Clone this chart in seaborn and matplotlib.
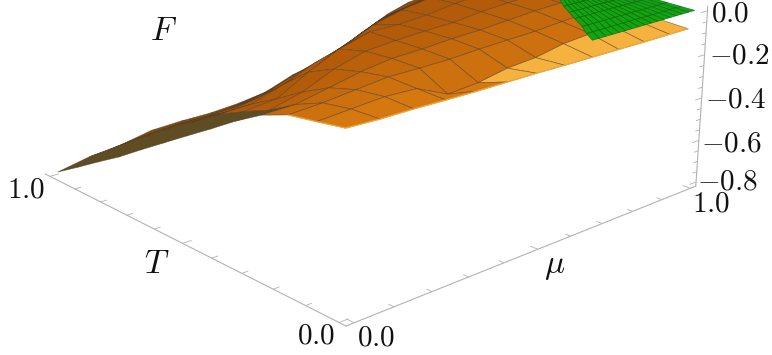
# surface plot of F over (mu, T), view set by a fitted camera matrix
import numpy as np
import matplotlib
matplotlib.use('Agg')
import matplotlib.pyplot as plt
import seaborn as sns

sns.set_theme(style='white')
plt.rcParams['mathtext.fontset'] = 'cm'
plt.rcParams['font.family'] = ['DejaVu Serif']

W, H = 772, 355

# orange sheet: columns are mu, rows are T
mu_nodes = [0, 0.083, 0.167, 0.25, 0.333, 0.417, 0.5, 0.583, 0.667, 0.75, 0.833, 0.917, 0.98]
T_nodes = [0, 0.083, 0.167, 0.25, 0.333, 0.417, 0.5, 0.583, 0.667, 0.75, 0.833, 0.917, 1.0]
F_orange = [
    [-.060, -.065, -.065, -.068, -.070, -.070, -.070, -.072, -.073, -.074, -.075, -.075, -.075],
    [-.080, -.070, -.060, -.065, -.125, -.115, -.090, -.080, -.055, -.045, -.050, -.060, -.070],
    [-.099, -.090, -.075, -.060, -.060, -.058, -.050, -.045, -.040, -.030, -.020, -.030, -.050],
    [-.144, -.140, -.110, -.080, -.060, -.055, -.045, -.040, -.030, -.020, -.015, -.020, -.040],
    [-.213, -.207, -.170, -.110, -.070, -.058, -.050, -.045, -.030, -.020, -.015, -.020, -.030],
    [-.291, -.257, -.242, -.165, -.100, -.060, -.060, -.050, -.030, -.020, -.015, -.020, -.030],
    [-.366, -.313, -.307, -.259, -.203, -.161, -.100, -.064, -.040, -.040, -.030, -.030, -.040],
    [-.442, -.385, -.383, -.358, -.308, -.271, -.225, -.156, -.130, -.100, -.080, -.070, -.060],
    [-.519, -.454, -.453, -.444, -.417, -.375, -.340, -.276, -.215, -.195, -.165, -.130, -.100],
    [-.597, -.534, -.526, -.526, -.506, -.480, -.440, -.390, -.336, -.276, -.253, -.215, -.165],
    [-.667, -.613, -.610, -.607, -.593, -.579, -.550, -.510, -.457, -.390, -.336, -.311, -.280],
    [-.740, -.700, -.684, -.680, -.677, -.669, -.645, -.607, -.568, -.517, -.456, -.400, -.360],
    [-.810, -.780, -.765, -.736, -.730, -.730, -.720, -.700, -.650, -.620, -.570, -.510, -.460],
]

# green sheet sits at F = 0, left edge moves with T
green_T = [0, .04, .08, .13, .17, .21, .25, .29, .33, .38, .42, .46, .5]
green_left = [.665, .69, .72, .75, .775, .80, .83, .855, .885, .91, .94, .97, .995]
green_F = 0.0

# axis ticks
mu_ticks = [0, .1, .2, .3, .4, .5, .6, .7, .8, .9, 1.0]
T_ticks = [0, .1, .2, .3, .4, .5, .6, .7, .8, .9, 1.0]
F_ticks = [-.8, -.75, -.7, -.65, -.6, -.55, -.5, -.45, -.4, -.35, -.3, -.25, -.2, -.15, -.1, -.05, 0]
box_lo, box_hi = -.02, 1.02
F_lo, F_hi = -.82, .02


def camera():
    # box coords (u, v, h in 0..1) to image pixels
    w = np.array([.215, .19, -.0453, 1])
    px = 346 * w + np.array([425, -358, -1.8, 0])
    py = 326 * w + np.array([-170, -181, -204, 0])
    pz = np.array([.215, .19, -.0453, 0])
    to_pixels = np.array([px, py, pz, w])
    span = box_hi - box_lo
    fspan = F_hi - F_lo
    to_box = np.array([[1 / span, 0, 0, -box_lo / span],
                       [0, 1 / span, 0, -box_lo / span],
                       [0, 0, 1 / fspan, -F_lo / fspan],
                       [0, 0, 0, 1]])
    return to_pixels @ to_box


fig = plt.figure(figsize=(W / 100, H / 100), dpi=100)
ax = fig.add_axes([0, (H - W) / 2 / H, 1, W / H], projection='3d', computed_zorder=False)
ax.set_proj_type('ortho')
ax.set_axis_off()
ax.patch.set_visible(False)
M_view = camera()
ax.get_proj = lambda: M_view
ax.viewLim.intervalx = (0, W)
ax.viewLim.intervaly = (H + (W - H) / 2, -(W - H) / 2)

# orange surface, colours by region
MU, TT = np.meshgrid(mu_nodes, T_nodes)
FF = np.array(F_orange)
row_cols = sns.blend_palette(['#d67810', '#b55c08', '#a3540a', '#85480d'], 12)
face = np.zeros((12, 12, 4))
for i in range(12):
    for j in range(12):
        face[i, j] = (*row_cols[i], 1)
        if i == 0 and j >= 5:
            face[i, j] = (*matplotlib.colors.to_rgb('#f6b23e'), 1)
        if i == 1 and j >= 10:
            face[i, j] = (*matplotlib.colors.to_rgb('#f6b23e'), 1)
        if j == 0 and i >= 3:
            face[i, j] = (*matplotlib.colors.to_rgb('#5f4d22'), 1)
orange = ax.plot_surface(MU, TT, FF, facecolors=face, shade=False, rstride=1, cstride=1,
                         linewidth=0.5, antialiased=True, zorder=2)
orange.set_edgecolor((0.30, 0.22, 0.14, 0.6))

# light rim along the near edge
ax.plot(mu_nodes, [T_nodes[0]] * 13, F_orange[0], color='#efa93a', lw=1.0, zorder=2.5)
ax.plot([mu_nodes[0]] * 3, T_nodes[:3], [r[0] for r in F_orange[:3]], color='#efa93a', lw=0.9, zorder=2.5)

# green surface on top
frac = np.linspace(0, 1, 17)
left = np.array(green_left)
GM = left[:, None] + (1 - left[:, None]) * frac[None, :]
GT = np.repeat(np.array(green_T)[:, None], len(frac), axis=1)
GF = np.full(GM.shape, green_F)
green = ax.plot_surface(GM, GT, GF, color='#0fa60f', shade=False, rstride=1, cstride=1,
                        linewidth=0.5, zorder=3)
green.set_edgecolor((0.05, 0.35, 0.05, 0.7))

# box edges and ticks
axis_col = '#b2b2b2'
ax.plot([box_lo, box_lo], [box_lo, box_hi], [F_lo, F_lo], color=axis_col, lw=0.8, zorder=1)
ax.plot([box_lo, box_hi], [box_lo, box_lo], [F_lo, F_lo], color=axis_col, lw=0.8, zorder=1)
ax.plot([box_hi, box_hi], [box_lo, box_lo], [F_lo, F_hi], color=axis_col, lw=0.8, zorder=1)
for m in mu_ticks:
    n = .022 if round(m * 10) % 5 == 0 else .015
    ax.plot([m, m], [box_lo, box_lo + n], [F_lo, F_lo], color=axis_col, lw=0.6, zorder=1)
for t in T_ticks:
    n = .022 if round(t * 10) % 5 == 0 else .015
    ax.plot([box_lo, box_lo + n], [t, t], [F_lo, F_lo], color=axis_col, lw=0.6, zorder=1)
for f in F_ticks:
    n = .022 if round(f * 100) % 20 == 0 else .014
    ax.plot([box_hi, box_hi - n], [box_lo, box_lo], [f, f], color=axis_col, lw=0.6, zorder=1)


def label(x, y, s, size=21):
    fig.text(x / W, 1 - y / H, s, ha='center', va='center', fontsize=size, color='#111111')


label(730, 14, r'$0.0$')
label(739, 56, r'$-0.2$')
label(735, 99, r'$-0.4$')
label(731, 143, r'$-0.6$')
label(727, 182, r'$-0.8$')
label(26, 190, r'$1.0$')
label(316, 336, r'$0.0$')
label(376, 338, r'$0.0$')
label(711, 204, r'$1.0$')
label(163, 31, r'$F$', 24)
label(157, 264, r'$T$', 24)
label(555, 266, r'$\mu$', 24)

fig.savefig('out.png', dpi=100)
